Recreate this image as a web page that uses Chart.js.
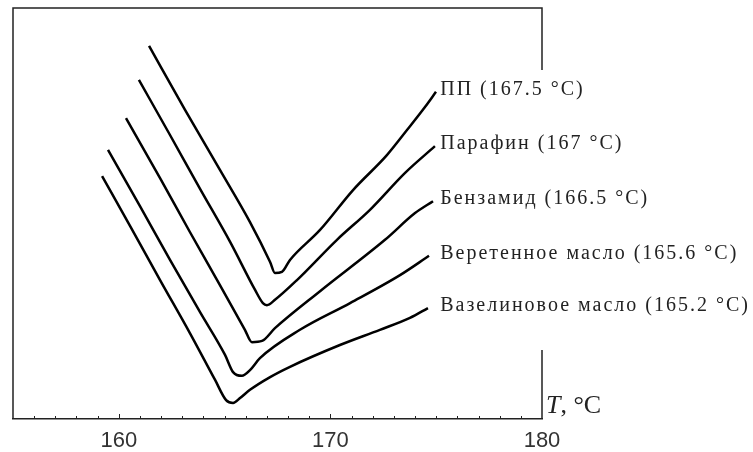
<!DOCTYPE html>
<html lang="ru">
<head>
    <meta charset="UTF-8">
    <title>ДСК: температура кристаллизации</title>
    <script src="https://cdn.jsdelivr.net/npm/chart.js"></script>
    <style>
        body {
            margin: 0;
            padding: 0;
            background: #fff;
        }
        .chart-box {
            width: 753px;
            height: 452px;
        }
    </style>
</head>
<body>
    <div class="chart-box">
        <canvas id="dsc-chart" width="753" height="452"></canvas>
    </div>

    <script>
        // Series names (labels drawn at the end of each curve)
        const seriesNames = [
            "ПП (167.5 °C)",
            "Парафин (167 °C)",
            "Бензамид (166.5 °C)",
            "Веретенное масло (165.6 °C)",
            "Вазелиновое масло (165.2 °C)"
        ];

        // Temperature, °C (x) and signal, arb. units (y) for each curve
        const ppT = [161.43, 163.13, 164.78, 166.20, 167.15, 167.38, 167.71, 168.09, 169.51, 171.07, 172.67, 173.62, 174.47, 174.99];
        const ppY = [90.8, 75.2, 60.6, 47.9, 38.2, 35.5, 35.8, 38.7, 46.0, 55.7, 64.2, 70.3, 75.9, 79.6];

        const paraffinT = [160.95, 162.42, 163.84, 165.26, 166.44, 166.81, 167.00, 167.38, 168.42, 170.31, 171.87, 173.53, 174.94];
        const paraffinY = [82.5, 69.1, 56.0, 43.1, 31.4, 28.2, 27.7, 29.0, 33.8, 43.6, 50.9, 59.9, 66.4];

        const benzamideT = [160.34, 161.95, 163.36, 164.78, 165.96, 166.29, 166.77, 167.38, 169.51, 172.58, 174.00, 174.85];
        const benzamideY = [73.2, 58.6, 45.5, 32.6, 21.7, 18.7, 19.0, 22.1, 31.1, 43.6, 50.1, 53.0];

        const spindleT = [159.49, 161.00, 162.42, 163.84, 165.02, 165.40, 165.82, 166.20, 166.67, 168.56, 170.93, 173.29, 174.66];
        const spindleY = [65.5, 51.8, 38.7, 26.0, 15.6, 11.4, 10.5, 11.9, 14.8, 21.7, 28.2, 35.0, 39.7];

        const vaselineT = [159.21, 160.53, 161.95, 163.36, 164.55, 165.07, 165.40, 165.73, 166.20, 167.15, 168.09, 170.45, 172.34, 173.76, 174.61];
        const vaselineY = [59.1, 47.0, 33.8, 20.9, 9.5, 4.6, 3.9, 5.1, 7.1, 10.2, 12.7, 18.0, 21.7, 24.6, 27.0];

        const tempTicks = [160, 170, 180];

        function toPoints(xs, ys) {
            return xs.map((x, i) => ({ x: x, y: ys[i] }));
        }

        const curves = [
            toPoints(ppT, ppY),
            toPoints(paraffinT, paraffinY),
            toPoints(benzamideT, benzamideY),
            toPoints(spindleT, spindleY),
            toPoints(vaselineT, vaselineY)
        ];

        // Frame: left axis, top line, broken right line, inner minor/major ticks
        const framePlugin = {
            id: 'frame',
            afterDraw(chart) {
                const { ctx, chartArea: a, scales } = chart;
                const xs = scales.x;
                ctx.save();
                ctx.strokeStyle = '#222';
                ctx.lineWidth = 1.5;
                ctx.beginPath();
                ctx.moveTo(a.left, a.bottom);
                ctx.lineTo(a.left, a.top);
                ctx.lineTo(a.right, a.top);
                ctx.lineTo(a.right, a.top + 62);
                ctx.moveTo(a.right, a.bottom - 69);
                ctx.lineTo(a.right, a.bottom);
                ctx.stroke();

                ctx.lineWidth = 1;
                ctx.beginPath();
                for (let t = 156; t < 180; t++) {
                    const px = Math.round(xs.getPixelForValue(t)) + 0.5;
                    const len = tempTicks.includes(t) ? 5 : 3;
                    ctx.moveTo(px, a.bottom);
                    ctx.lineTo(px, a.bottom - len);
                }
                ctx.stroke();

                // axis title
                ctx.fillStyle = '#222';
                ctx.textBaseline = 'alphabetic';
                ctx.font = 'italic 26px "Liberation Serif", "Times New Roman", serif';
                ctx.fillText('T', a.right + 4, a.bottom - 6);
                const tw = ctx.measureText('T').width;
                ctx.font = '26px "Liberation Serif", "Times New Roman", serif';
                ctx.fillText(', °C', a.right + 4 + tw, a.bottom - 6);

                // curve labels
                ctx.font = '20px "Liberation Serif", "Times New Roman", serif';
                ctx.textBaseline = 'middle';
                if ('letterSpacing' in ctx) ctx.letterSpacing = '2px';
                chart.data.datasets.forEach((ds, i) => {
                    const pts = chart.getDatasetMeta(i).data;
                    const last = pts[pts.length - 1];
                    ctx.fillText(ds.label, xs.getPixelForValue(175) + 4, last.y - 2);
                });
                ctx.restore();
            }
        };

        const ctx = document.getElementById('dsc-chart').getContext('2d');
        const dscChart = new Chart(ctx, {
            type: 'line',
            data: {
                datasets: curves.map((pts, i) => ({
                    label: seriesNames[i],
                    data: pts,
                    borderColor: '#000',
                    borderWidth: 2.5,
                    pointRadius: 0,
                    fill: false,
                    cubicInterpolationMode: 'monotone'
                }))
            },
            options: {
                responsive: false,
                animation: false,
                layout: { padding: { left: 13, top: 8, right: 211, bottom: 0 } },
                plugins: {
                    legend: { display: false },
                    tooltip: { enabled: false }
                },
                scales: {
                    x: {
                        type: 'linear',
                        min: 155,
                        max: 180,
                        grid: { display: false, drawTicks: false },
                        border: { display: true, color: '#222', width: 1.5 },
                        afterFit: (scale) => { scale.height = 33; },
                        ticks: {
                            stepSize: 1,
                            autoSkip: false,
                            maxRotation: 0,
                            padding: 11,
                            color: '#333',
                            font: { family: '"Liberation Sans", Arial, sans-serif', size: 22, lineHeight: 1 },
                            callback: (v) => tempTicks.includes(v) ? String(v) : ''
                        }
                    },
                    y: {
                        type: 'linear',
                        min: 0,
                        max: 100,
                        display: false
                    }
                }
            },
            plugins: [framePlugin]
        });
    </script>
</body>
</html>
